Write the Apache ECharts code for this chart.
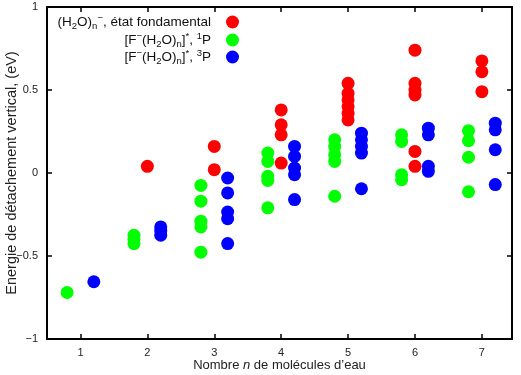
<!DOCTYPE html>
<html>
<head>
<meta charset="utf-8">
<script src="https://cdn.jsdelivr.net/npm/echarts@6/dist/echarts.min.js"></script>
<style>
html, body { margin: 0; padding: 0; background: #fff; }
#chart { width: 521px; height: 375px; }
</style>
</head>
<body>
<div id="chart"></div>
<script>
// nombre n de molécules d'eau
var nValues = [1, 2, 3, 4, 5, 6, 7];
var xTicks = [1, 2, 3, 4, 5, 6, 7];
var yTicks = [-1, -0.5, 0, 0.5, 1];

// énergies (eV), une liste par valeur de n
var fondamental = [
	[],
	[0.04],
	[0.16, 0.02],
	[0.38, 0.29, 0.23, 0.06],
	[0.54, 0.48, 0.44, 0.40, 0.36, 0.32],
	[0.74, 0.54, 0.50, 0.47, 0.13, 0.04],
	[0.675, 0.61, 0.49]
];
var singulet = [
	[-0.72],
	[-0.375, -0.40, -0.425],
	[-0.075, -0.17, -0.29, -0.325, -0.477],
	[0.12, 0.07, -0.02, -0.045, -0.21],
	[0.20, 0.16, 0.11, 0.07, -0.14],
	[0.23, 0.19, -0.01, -0.04],
	[0.255, 0.195, 0.095, -0.113]
];
var triplet = [
	[-0.655],
	[-0.325, -0.35, -0.375],
	[-0.03, -0.12, -0.235, -0.275, -0.425],
	[0.16, 0.10, 0.03, -0.01, -0.16],
	[0.24, 0.20, 0.16, 0.12, -0.095],
	[0.27, 0.23, 0.04, 0.01],
	[0.30, 0.26, 0.14, -0.07]
];

var labels = {
	fondamental: '(H{sub|2}O){sub|n}{sup|−}, état fondamental',
	singulet: '[F{sup|−}(H{sub|2}O){sub|n}]{sup|*}, {sup|1}P',
	triplet: '[F{sup|−}(H{sub|2}O){sub|n}]{sup|*}, {sup|3}P'
};

function buildPoints(list, offset) {
	var pts = [];
	for (var i = 0; i < list.length; i++) {
		for (var j = 0; j < list[i].length; j++) {
			pts.push([nValues[i] + offset, list[i][j]]);
		}
	}
	return pts;
}

function fmtNum(v) {
	var s = String(v);
	return v < 0 ? '−' + s.substring(1) : s;
}

var FONT = 'Liberation Sans';
var rich = {
	sub: { fontSize: 9.5, fontFamily: FONT, verticalAlign: 'bottom', padding: [6, 0, 0, 0], color: '#111' },
	sup: { fontSize: 9.5, fontFamily: FONT, verticalAlign: 'top', padding: [0, 0, 6, 0], color: '#111' }
};

function makeLegend(name, top) {
	return {
		data: [name],
		right: 282,
		top: top,
		align: 'right',
		orient: 'vertical',
		icon: 'circle',
		itemWidth: 33,
		itemHeight: 13,
		padding: 0,
		selectedMode: false,
		formatter: function (n) { return labels[n]; },
		textStyle: { fontFamily: FONT, fontSize: 13.5, color: '#111', lineHeight: 18, rich: rich }
	};
}

var axisLineStyle = { color: '#000', width: 2 };

var chart = echarts.init(document.getElementById('chart'));
var option = {
	animation: false,
	backgroundColor: '#fff',
	grid: { left: 47, right: 9, top: 7, bottom: 36, containLabel: false, outerBoundsMode: 'none' },
	legend: [
		makeLegend('fondamental', 13),
		makeLegend('singulet', 31),
		makeLegend('triplet', 48)
	],
	xAxis: [
		{
			type: 'value', min: 0.5, max: 7.45,
			splitLine: { show: false },
			axisLine: { onZero: false, lineStyle: axisLineStyle },
			axisTick: { inside: true, length: 5, customValues: xTicks, lineStyle: { color: '#000', width: 1.5 } },
			axisLabel: { customValues: xTicks, margin: 8, fontFamily: FONT, fontSize: 11, color: '#222' },
			name: 'Nombre {i|n} de molécules d’eau',
			nameLocation: 'middle',
			nameGap: 20,
			nameMoveOverlap: false,
			nameTextStyle: {
				fontFamily: FONT, fontSize: 13, color: '#222',
				rich: { i: { fontFamily: FONT, fontSize: 13, fontStyle: 'italic', color: '#222' } }
			}
		},
		{
			type: 'value', min: 0.5, max: 7.45, position: 'top',
			splitLine: { show: false },
			axisLine: { onZero: false, lineStyle: axisLineStyle },
			axisTick: { inside: true, length: 5, customValues: xTicks, lineStyle: { color: '#000', width: 1.5 } },
			axisLabel: { show: false }
		}
	],
	yAxis: [
		{
			type: 'value', min: -1, max: 1, interval: 0.5,
			splitLine: { show: false },
			axisLine: { onZero: false, lineStyle: axisLineStyle },
			axisTick: { inside: true, length: 5, lineStyle: { color: '#000', width: 1.5 } },
			axisLabel: { margin: 9, fontFamily: FONT, fontSize: 11, color: '#222', formatter: fmtNum },
			name: 'Energie de détachement vertical, (eV)',
			nameLocation: 'middle',
			nameGap: 28,
			nameMoveOverlap: false,
			nameTextStyle: { fontFamily: FONT, fontSize: 14.5, color: '#222' }
		},
		{
			type: 'value', min: -1, max: 1, interval: 0.5, position: 'right',
			splitLine: { show: false },
			axisLine: { onZero: false, lineStyle: axisLineStyle },
			axisTick: { inside: true, length: 5, lineStyle: { color: '#000', width: 1.5 } },
			axisLabel: { show: false }
		}
	],
	series: [
		{
			name: 'fondamental', type: 'scatter', symbol: 'circle', symbolSize: 13,
			itemStyle: { color: '#ff0000', opacity: 1 },
			data: buildPoints(fondamental, 0)
		},
		{
			name: 'singulet', type: 'scatter', symbol: 'circle', symbolSize: 13,
			itemStyle: { color: '#00ff00', opacity: 1 },
			data: buildPoints(singulet, -0.2)
		},
		{
			name: 'triplet', type: 'scatter', symbol: 'circle', symbolSize: 13,
			itemStyle: { color: '#0000ff', opacity: 1 },
			data: buildPoints(triplet, 0.2)
		}
	]
};
chart.setOption(option);
</script>
</body>
</html>
